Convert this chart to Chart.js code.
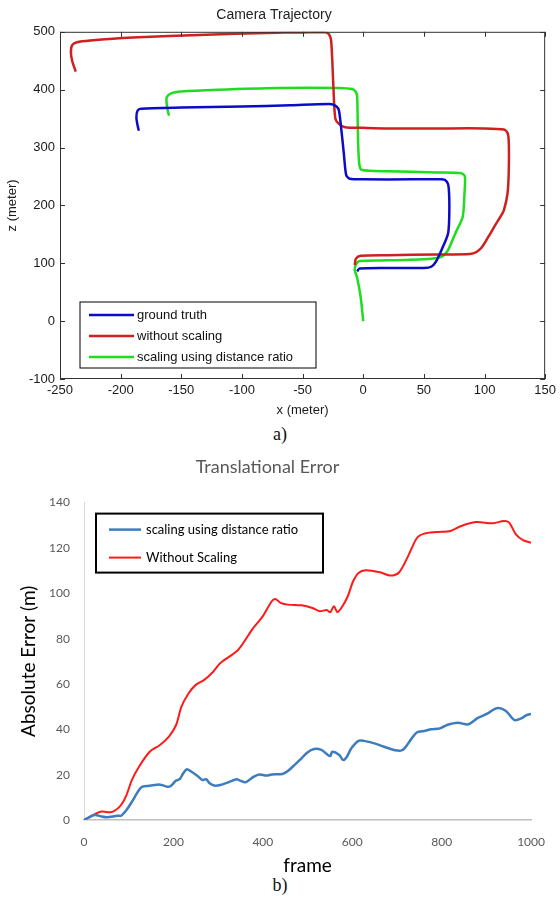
<!DOCTYPE html>
<html lang="en">
<head>
<meta charset="UTF-8">
<title>Camera Trajectory / Translational Error</title>
<script src="https://cdn.jsdelivr.net/npm/chart.js"></script>
<style>
  body { margin: 0; background: #fff; width: 560px; height: 899px; position: relative; overflow: hidden; }
  .box { position: absolute; left: 0; width: 560px; }
  #top { top: 0; height: 420px; }
  #bottom { top: 450px; height: 425px; }
  .cap { position: absolute; left: 0; width: 560px; text-align: center; font-family: "Liberation Serif", serif; font-size: 18px; color: #111; }
</style>
</head>
<body>
<div class="box" id="top"><canvas id="trajChart"></canvas></div>
<div class="cap" style="top:424px">a)</div>
<div class="box" id="bottom"><canvas id="errChart"></canvas></div>
<div class="cap" style="top:875px">b)</div>

<script>
// --- a) camera trajectory (x / z in meters)
const gtX = [-5, -3, 20, 50, 56, 60, 65, 70, 71, 70.5, 69, 65, 40, 0, -11, -14, -16, -18, -20, -22, -26, -60, -100, -150, -183, -186, -187, -186, -185];
const gtZ = [86, 91, 92, 92, 94, 103, 125, 152, 190, 230, 241, 245, 245, 245, 246, 252, 290, 330, 364, 371, 375, 373, 371, 369, 367, 364, 352, 338, 329];

const noScaleX = [-7, -6, -2, 20, 60, 88, 93, 98, 103, 108, 113, 116, 119, 120, 120, 119, 116, 100, 60, 20,
  0, -15, -20, -23, -24.5, -25.5, -26.5, -28, -31, -50, -80, -130, -190, -225, -236, -240, -241, -240, -237];
const noScaleZ = [97, 108, 113, 114, 115, 116, 119, 128, 145, 163, 180, 192, 221, 260, 310, 325, 331, 333, 333, 333,
  334, 335, 341, 350, 400, 450, 485, 495, 499, 499, 498, 495, 490, 485, 482, 477, 465, 450, 431];

const distX = [0, -2, -5, -7, -6, -3, 20, 50, 61, 66, 70, 76, 82, 83.5, 84, 83, 80, 60, 20, -1,
  -3, -4, -4.5, -5, -6, -9, -20, -70, -120, -150, -158, -162, -162, -161, -160];
const distZ = [0, 40, 75, 88, 98, 104, 105, 107, 109, 113, 123, 152, 180, 221, 247, 253, 256, 257, 259, 261,
  268, 296, 340, 388, 396, 401, 403, 403, 400, 397, 394, 387, 375, 362, 355];

const trajLabels = ['ground truth', 'without scaling', 'scaling using distance ratio'];

// --- b) translational error per frame
const distFrames = [0, 24, 40, 51, 75, 83, 95, 107, 123, 131, 147, 170, 186, 194, 206, 214, 222, 230, 238, 254,
  265, 273, 281, 293, 305, 321, 341, 349, 360, 368, 380, 392, 408, 420, 444, 456, 471, 483, 499, 515,
  531, 543, 551, 555, 571, 579, 587, 598, 614, 626, 650, 670, 693, 709, 717, 733, 745, 761, 777, 796,
  812, 836, 860, 880, 903, 923, 943, 963, 979, 990, 1000];
const distError = [0, 2.2, 1.5, 1.2, 1.9, 1.9, 4.4, 8, 13.2, 14.7, 15.1, 15.6, 14.7, 15, 17.4, 18, 20.6, 22.4, 21.6, 19.4,
  17.6, 18, 16.2, 15.1, 15.4, 16.5, 18, 17.4, 16.6, 17.4, 19.1, 20.1, 19.6, 20.1, 20.3, 21.6, 24.3, 26.5, 29.7, 31.3,
  30.9, 29.1, 28.2, 30.1, 28.7, 26.5, 27.6, 31.6, 34.9, 34.9, 33.8, 32.4, 30.9, 30.6, 31.6, 36, 38.7, 39.3, 40, 40.4,
  41.9, 42.9, 42.2, 44.9, 47, 49.3, 48.2, 44.1, 44.9, 46.3, 46.8];

const noScaleFrames = [0, 24, 40, 59, 71, 83, 95, 107, 123, 147, 170, 190, 206, 218, 234, 250, 269, 289, 305, 345,
  376, 400, 420, 428, 440, 456, 487, 511, 527, 543, 551, 559, 567, 578, 590, 602, 614, 630, 662, 685,
  705, 725, 745, 761, 788, 820, 844, 876, 915, 939, 951, 966, 982, 1000];
const noScaleError = [0, 2.6, 3.7, 3.4, 4.4, 6.6, 11, 17.6, 23.5, 30.1, 33.1, 36.8, 41.9, 50, 55.9, 59.6, 61.8, 65.4, 69.2, 75.1,
  84, 89.9, 96.5, 97.5, 95.8, 95, 94.7, 93.5, 92.1, 92.6, 91.7, 94.3, 91.7, 94.3, 98.7, 105.3, 109, 110.2, 109.3, 107.8,
  109.3, 116.4, 124.5, 126.3, 127, 127.5, 129.7, 131.4, 130.9, 131.9, 131.2, 126, 123.5, 122.3];

const errLabels = ['scaling using distance ratio', 'Without Scaling'];

const pts = (xs, ys) => xs.map((x, i) => ({ x, y: ys[i] }));

// legend box drawn inside the plot area
const boxLegend = {
  id: 'boxLegend',
  afterDraw(chart, args, o) {
    const { ctx, chartArea: a } = chart;
    const x0 = a.left + o.dx;
    const y0 = o.fromBottom ? a.bottom - o.dy - o.h : a.top + o.dy;
    ctx.save();
    ctx.fillStyle = '#fff';
    ctx.fillRect(x0, y0, o.w, o.h);
    ctx.strokeStyle = '#000';
    ctx.lineWidth = o.border;
    ctx.strokeRect(x0, y0, o.w, o.h);
    ctx.font = o.font;
    ctx.textBaseline = 'middle';
    chart.data.datasets.forEach((ds, i) => {
      const cy = y0 + o.first + i * o.rowH;
      ctx.strokeStyle = ds.borderColor;
      ctx.lineWidth = ds.borderWidth;
      ctx.beginPath();
      ctx.moveTo(x0 + o.lineX, cy);
      ctx.lineTo(x0 + o.lineX + o.lineLen, cy);
      ctx.stroke();
      ctx.fillStyle = o.color;
      ctx.fillText(ds.label, x0 + o.textX, cy);
    });
    ctx.restore();
  }
};

// matlab style box with inward ticks on all four sides
const matlabFrame = {
  id: 'matlabFrame',
  afterDatasetsDraw(chart) {
    const { ctx, chartArea: a, scales: { x, y } } = chart;
    const len = 5;
    ctx.save();
    ctx.strokeStyle = '#333';
    ctx.lineWidth = 1;
    ctx.strokeRect(a.left + 0.5, a.top + 0.5, a.width - 1, a.height - 1);
    ctx.beginPath();
    x.ticks.forEach(t => {
      const px = Math.round(x.getPixelForValue(t.value)) + 0.5;
      ctx.moveTo(px, a.bottom); ctx.lineTo(px, a.bottom - len);
      ctx.moveTo(px, a.top); ctx.lineTo(px, a.top + len);
    });
    y.ticks.forEach(t => {
      const py = Math.round(y.getPixelForValue(t.value)) + 0.5;
      ctx.moveTo(a.left, py); ctx.lineTo(a.left + len, py);
      ctx.moveTo(a.right, py); ctx.lineTo(a.right - len, py);
    });
    ctx.stroke();
    ctx.restore();
  }
};

const mFont = { family: 'Liberation Sans', size: 13 };
const plain = v => String(v);

new Chart(document.getElementById('trajChart'), {
  type: 'scatter',
  data: {
    datasets: [
      { label: trajLabels[0], data: pts(gtX, gtZ), borderColor: '#0c0cc8', borderWidth: 2.5 },
      { label: trajLabels[1], data: pts(noScaleX, noScaleZ), borderColor: '#cf1f1f', borderWidth: 2.5 },
      { label: trajLabels[2], data: pts(distX, distZ), borderColor: '#1fdc1f', borderWidth: 2.5 }
    ].map(d => Object.assign(d, { showLine: true, pointRadius: 0, tension: 0.25, backgroundColor: d.borderColor }))
  },
  options: {
    responsive: true,
    maintainAspectRatio: false,
    animation: false,
    layout: { padding: { top: 0, right: 12, bottom: 0, left: 0 } },
    scales: {
      x: {
        type: 'linear', min: -250, max: 150,
        ticks: { stepSize: 50, color: '#1a1a1a', font: mFont, padding: 4, maxRotation: 0, callback: plain },
        grid: { display: false, drawTicks: false },
        border: { display: false },
        title: { display: true, text: 'x (meter)', color: '#1a1a1a', font: mFont, padding: { top: 4, bottom: 2 } },
        afterFit(s) { s.height = 41; }
      },
      y: {
        type: 'linear', min: -100, max: 500,
        ticks: { stepSize: 100, color: '#1a1a1a', font: mFont, padding: 5, callback: plain },
        grid: { display: false, drawTicks: false },
        border: { display: false },
        title: { display: true, text: 'z (meter)', color: '#1a1a1a', font: mFont, padding: { top: 5, bottom: 2 } },
        afterFit(s) { s.width = 60; }
      }
    },
    plugins: {
      legend: { display: false },
      tooltip: { enabled: false },
      title: { display: true, text: 'Camera Trajectory', color: '#222', font: { family: 'Liberation Sans', size: 14, weight: 'normal' }, padding: { top: 7, bottom: 8 } },
      boxLegend: { dx: 20, dy: 11, fromBottom: true, w: 236, h: 66, border: 1, first: 13, rowH: 21, lineX: 9, lineLen: 45, textX: 57, font: '13px "Liberation Sans"', color: '#111' }
    }
  },
  plugins: [matlabFrame, boxLegend]
});

const xlFont = { family: 'Lato', size: 12 };

new Chart(document.getElementById('errChart'), {
  type: 'scatter',
  data: {
    datasets: [
      { label: errLabels[0], data: pts(distFrames, distError), borderColor: '#3e7cc0', borderWidth: 2.5 },
      { label: errLabels[1], data: pts(noScaleFrames, noScaleError), borderColor: '#ff1a1a', borderWidth: 2 }
    ].map(d => Object.assign(d, { showLine: true, pointRadius: 0, tension: 0.3, backgroundColor: d.borderColor }))
  },
  options: {
    responsive: true,
    maintainAspectRatio: false,
    animation: false,
    layout: { padding: { top: 0, right: 25, bottom: 0, left: 0 } },
    scales: {
      x: {
        type: 'linear', min: 0, max: 1000,
        ticks: { stepSize: 200, color: '#595959', font: xlFont, padding: 15, maxRotation: 0, callback: plain },
        grid: { display: false, drawTicks: false },
        border: { display: true, color: '#bfbfbf', width: 1.5 },
        title: { display: true, text: 'frame', color: '#000', font: { family: 'Lato', size: 19 }, padding: { top: 0, bottom: -2 } },
        afterFit(s) { s.height = 55; }
      },
      y: {
        type: 'linear', min: 0, max: 140,
        ticks: { stepSize: 20, color: '#595959', font: xlFont, padding: 14, callback: plain },
        grid: { display: false, drawTicks: false },
        border: { display: true, color: '#d9d9d9', width: 1 },
        title: { display: true, text: 'Absolute Error (m)', color: '#000', font: { family: 'Lato', size: 19 }, padding: { top: 17, bottom: 0 } },
        afterFit(s) { s.width = 84; }
      }
    },
    plugins: {
      legend: { display: false },
      tooltip: { enabled: false },
      title: { display: true, text: 'Translational Error', color: '#595959', font: { family: 'Lato', size: 18, weight: 'normal' }, padding: { top: 6, bottom: 25 } },
      boxLegend: { dx: 12, dy: 11, fromBottom: false, w: 227, h: 59, border: 2, first: 16, rowH: 28, lineX: 13, lineLen: 32, textX: 50, font: '13px Lato', color: '#000' }
    }
  },
  plugins: [boxLegend]
});
</script>
</body>
</html>
